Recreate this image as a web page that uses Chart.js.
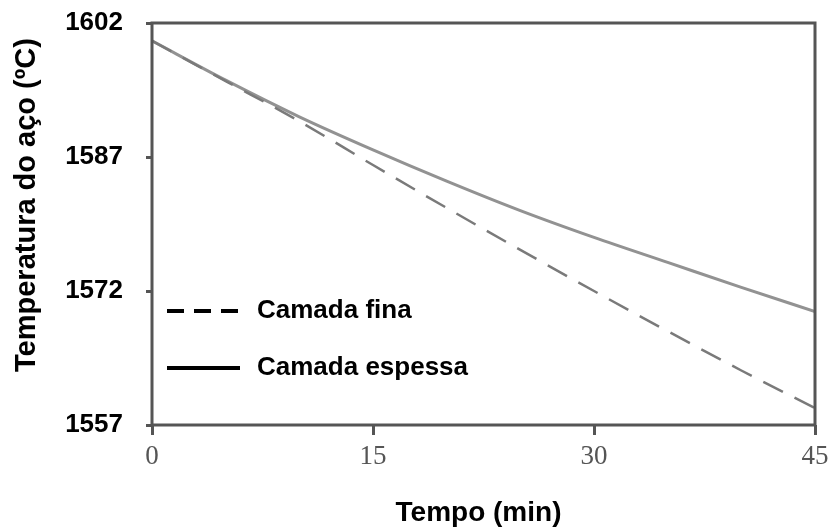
<!DOCTYPE html>
<html>
<head>
<meta charset="utf-8">
<script src="https://cdn.jsdelivr.net/npm/chart.js@4.4.0/dist/chart.umd.min.js"></script>
<style>
  html, body { margin: 0; padding: 0; background: #fff; }
  #wrap { width: 833px; height: 529px; }
</style>
</head>
<body>
<div id="wrap"><canvas id="chart" width="833" height="529"></canvas></div>
<script>
// Data
const tempo = [0, 5, 10, 15, 20, 25, 30, 35, 40, 45];
const camadaFina = [1600.0, 1595.5, 1591.0, 1586.1, 1581.3, 1576.6, 1572.0, 1567.5, 1563.1, 1558.9];
const camadaEspessa = [1600.0, 1595.6, 1591.5, 1587.8, 1584.3, 1581.0, 1578.0, 1575.2, 1572.4, 1569.7];
const xTicks = [0, 15, 30, 45];
const yTicks = [1557, 1572, 1587, 1602];

const frameColor = '#555';

function toPoints(values) {
    return tempo.map((t, i) => ({ x: t, y: values[i] }));
}

// frame, axis titles and the in-plot legend
const decorations = {
    id: 'decorations',
    afterDraw(chart) {
        const ctx = chart.ctx;
        const a = chart.chartArea;
        ctx.save();
        ctx.strokeStyle = frameColor;
        ctx.lineWidth = 3;
        ctx.strokeRect(a.left, a.top, a.right - a.left, a.bottom - a.top);

        ctx.fillStyle = '#000';
        ctx.font = 'bold 28px "Liberation Sans", Arial, sans-serif';
        ctx.textAlign = 'center';
        ctx.textBaseline = 'middle';
        ctx.fillText('Tempo (min)', (a.left + a.right) / 2 - 5, 513);

        ctx.save();
        ctx.translate(27, 205);
        ctx.rotate(-Math.PI / 2);
        ctx.font = 'bold 29px "Liberation Sans", Arial, sans-serif';
        ctx.fillText('Temperatura do aço (ºC)', 0, 0);
        ctx.restore();

        // legend
        const items = chart.data.datasets;
        const rows = [311, 368];
        ctx.strokeStyle = '#000';
        ctx.lineWidth = 4;
        ctx.textAlign = 'left';
        ctx.font = 'bold 26px "Liberation Sans", Arial, sans-serif';
        items.forEach((ds, i) => {
            const y = rows[i];
            ctx.setLineDash(ds.borderDash && ds.borderDash.length ? [17, 10] : []);
            ctx.beginPath();
            ctx.moveTo(167, y);
            ctx.lineTo(240, y);
            ctx.stroke();
            ctx.setLineDash([]);
            ctx.fillText(ds.label, 257, y);
        });
        ctx.restore();
    }
};

window.addEventListener('DOMContentLoaded', () => {
    const ctx = document.getElementById('chart').getContext('2d');
    new Chart(ctx, {
        type: 'line',
        data: {
            datasets: [{
                label: 'Camada fina',
                data: toPoints(camadaFina),
                borderColor: '#7a7a7a',
                borderWidth: 2.5,
                borderDash: [22, 13],
                pointRadius: 0,
                cubicInterpolationMode: 'monotone',
                fill: false
            }, {
                label: 'Camada espessa',
                data: toPoints(camadaEspessa),
                borderColor: '#929292',
                borderWidth: 3,
                pointRadius: 0,
                cubicInterpolationMode: 'monotone',
                fill: false
            }]
        },
        options: {
            responsive: false,
            animation: false,
            events: [],
            layout: { padding: { top: 23, right: 18, left: 0, bottom: 0 } },
            plugins: {
                legend: { display: false },
                tooltip: { enabled: false }
            },
            scales: {
                x: {
                    type: 'linear',
                    min: 0,
                    max: 45,
                    afterFit(scale) {
                        scale.height = 104;
                        scale.paddingLeft = 0;
                        scale.paddingRight = 0;
                    },
                    afterBuildTicks(scale) { scale.ticks = xTicks.map(v => ({ value: v })); },
                    border: { display: false },
                    grid: { drawOnChartArea: false, drawTicks: true, tickLength: 10, color: frameColor, lineWidth: 3 },
                    ticks: {
                        color: '#555',
                        padding: 6,
                        maxRotation: 0,
                        callback: v => String(v),
                        font: { family: '"Liberation Serif", "Times New Roman", serif', size: 27 }
                    }
                },
                y: {
                    type: 'linear',
                    min: 1557,
                    max: 1602,
                    afterFit(scale) {
                        scale.width = 152;
                        scale.paddingTop = 0;
                        scale.paddingBottom = 0;
                    },
                    afterBuildTicks(scale) { scale.ticks = yTicks.map(v => ({ value: v })); },
                    border: { display: false },
                    grid: { drawOnChartArea: false, drawTicks: true, tickLength: 6, color: frameColor, lineWidth: 3 },
                    ticks: {
                        color: '#000',
                        padding: 23,
                        callback: v => String(v),
                        font: { family: '"Liberation Sans", Arial, sans-serif', size: 26, weight: 'bold' }
                    }
                }
            }
        },
        plugins: [decorations]
    });
});
</script>
</body>
</html>
